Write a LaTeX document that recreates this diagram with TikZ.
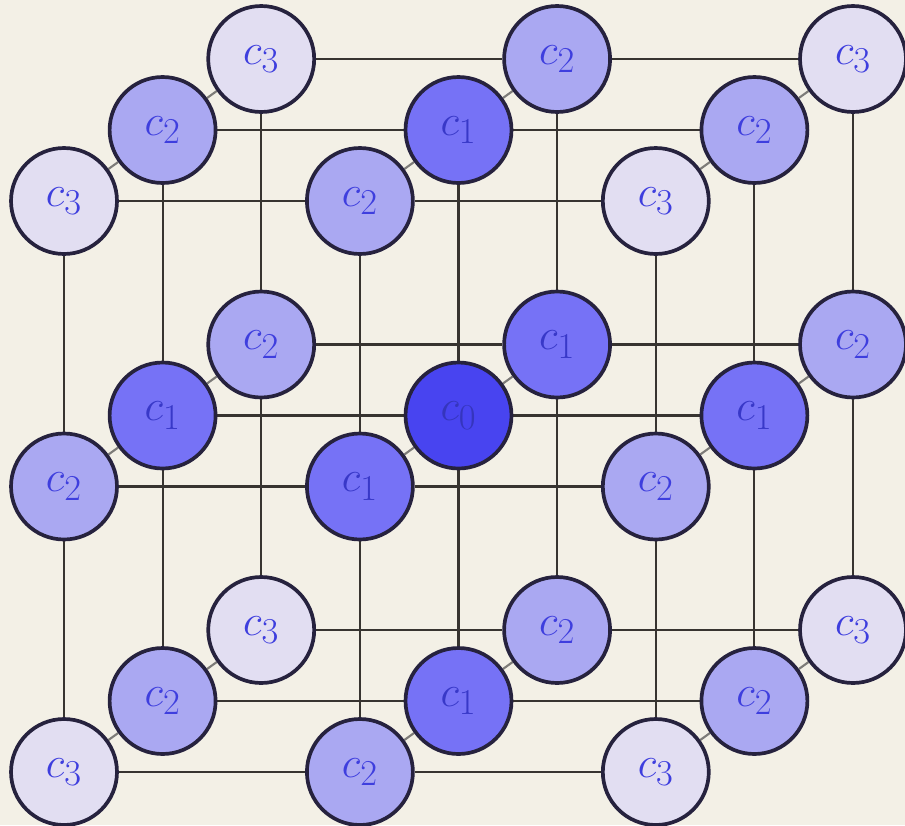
\documentclass[tikz,border=0pt]{standalone}
\usetikzlibrary{backgrounds}
\DeclareMathSizes{33}{33}{21}{16}
\definecolor{myPaper}{RGB}{243,240,230}
\definecolor{myEdge}{RGB}{55,52,48}
\definecolor{myRim}{RGB}{38,34,62}
\definecolor{myInk}{RGB}{62,62,222}
\definecolor{myLevel0}{RGB}{72,68,240}
\definecolor{myLevel1}{RGB}{118,114,246}
\definecolor{myLevel2}{RGB}{170,168,242}
\definecolor{myLevel3}{RGB}{226,222,242}
\tikzset{
	site/.style={circle, draw=myRim, line width=2.1pt, minimum size=2.12cm, inner sep=0pt, text=myInk, font=\fontsize{33}{33}\selectfont},
	level0/.style={site, fill=myLevel0, text=myInk!85!black},
	level1/.style={site, fill=myLevel1, text=myInk!90!black},
	level2/.style={site, fill=myLevel2},
	level3/.style={site, fill=myLevel3},
	bond/.style={myEdge, line width=1.2pt},
	depthbond/.style={myEdge!65, line width=1.2pt}
}

\begin{document}
\begin{tikzpicture}[x=0.02cm, y=-0.02cm]
	\useasboundingbox (0,0) rectangle (905,825);
	% Sites, front layer first
	\foreach \d in {0,1,2}
		\foreach \r in {0,1,2}
			\foreach \c in {0,1,2} {
				\pgfmathtruncatemacro{\lev}{abs(\c-1)+abs(\r-1)+abs(\d-1)}
				\node[level\lev] (n\c\r\d) at ({64+295.9*\c+98.6*\d},{201+285.5*\r-71*\d}) {$c_{\lev}$};
			}
	\begin{scope}[on background layer]
		% Paper
		\fill[myPaper] (0,0) rectangle (905,825);
		% Horizontal bonds
		\foreach \d in {0,1,2}
			\foreach \r in {0,1,2} {
				\draw[bond] (n0\r\d) -- (n1\r\d);
				\draw[bond] (n1\r\d) -- (n2\r\d);
			}
		% Vertical bonds
		\foreach \d in {0,1,2}
			\foreach \c in {0,1,2} {
				\draw[bond] (n\c0\d) -- (n\c1\d);
				\draw[bond] (n\c1\d) -- (n\c2\d);
			}
		% Bonds into the depth
		\foreach \c in {0,1,2}
			\foreach \r in {0,1,2} {
				\draw[depthbond] (n\c\r0) -- (n\c\r1);
				\draw[depthbond] (n\c\r1) -- (n\c\r2);
			}
	\end{scope}
\end{tikzpicture}
\end{document}
